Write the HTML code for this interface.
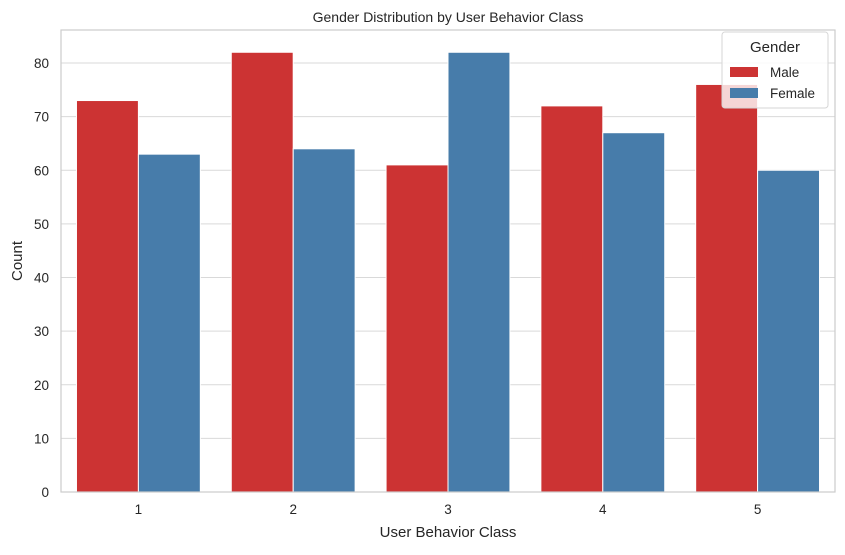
<!DOCTYPE html>
<html><head><meta charset="utf-8"><style>
body{margin:0;background:#fff;font-family:"Liberation Sans","DejaVu Sans",sans-serif;}
svg text{font-family:"Liberation Sans","DejaVu Sans",sans-serif;fill:#262626;}
</style></head><body>
<svg id="chart" width="845" height="550" viewBox="0 0 845 550">
<g id="grid"></g>
<g id="bars"></g>
<g id="axes"></g>
<text x="448" y="22" text-anchor="middle" font-size="14">Gender Distribution by User Behavior Class</text>
<text x="448" y="537" text-anchor="middle" font-size="15">User Behavior Class</text>
<text x="22" y="261" text-anchor="middle" font-size="15" transform="rotate(-90 22 261)">Count</text>
<g>
<rect x="722" y="32" width="106" height="76" rx="3" fill="#fff" fill-opacity="0.8" stroke="#d6d6d6"/>
<text x="775" y="52" text-anchor="middle" font-size="15">Gender</text>
<rect x="730" y="67" width="28" height="10" fill="#cc3333"/>
<text x="770" y="77" font-size="13.5">Male</text>
<rect x="730" y="88" width="28" height="10" fill="#477caa"/>
<text x="770" y="98" font-size="13.5">Female</text>
</g>
</svg>
<script>
const categories = ["1","2","3","4","5"];
const maleValues = [73,82,61,72,76];
const femaleValues = [63,64,82,67,60];
const yTicks = [0,10,20,30,40,50,60,70,80];
const NS="http://www.w3.org/2000/svg";
const L=61,R=835,T=30,B=492;
const y=v=>B-v*(B-63)/80;
const band=(R-L)/categories.length;
const xc=i=>L+band*(i+0.5);
function mk(tag,attrs,parent){const e=document.createElementNS(NS,tag);for(const k in attrs)e.setAttribute(k,attrs[k]);parent.appendChild(e);return e;}
const grid=document.getElementById('grid'),bars=document.getElementById('bars'),axes=document.getElementById('axes');
yTicks.forEach(t=>{
 const l=mk('line',{x1:L,x2:R,y1:y(t),y2:y(t),stroke:'#d9d9d9','stroke-width':1},grid);
 
 
 const tx=mk('text',{x:L-12,y:y(t)+5,'text-anchor':'end','font-size':'13.5'},axes);
 tx.textContent=t;
 
 
});
const bw=band*0.4;
categories.forEach((c,i)=>{
 const m=mk('rect',{x:xc(i)-bw,y:y(maleValues[i]),width:bw,height:B-y(maleValues[i]),fill:'#cc3333',stroke:'#fff','stroke-width':1},bars);
 
 
 const f=mk('rect',{x:xc(i),y:y(femaleValues[i]),width:bw,height:B-y(femaleValues[i]),fill:'#477caa',stroke:'#fff','stroke-width':1},bars);
 
 
 const tx=mk('text',{x:xc(i),y:B+22,'text-anchor':'middle','font-size':'13.5'},axes);
 tx.textContent=c;
 
 
});
const fr=mk('rect',{x:L,y:T,width:R-L,height:B-T,fill:'none',stroke:'#cccccc','stroke-width':1.2},axes);


</script>
</body></html>
